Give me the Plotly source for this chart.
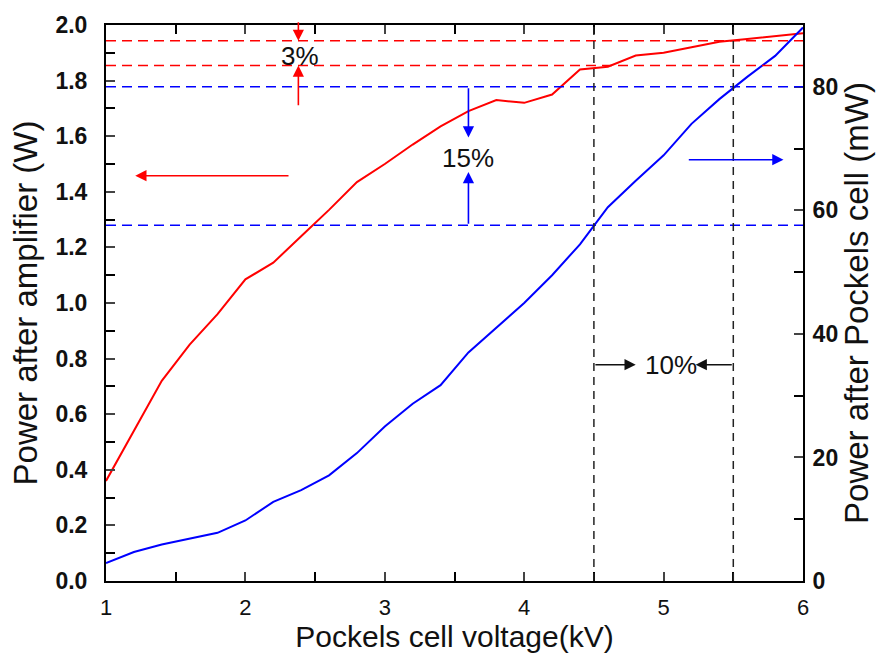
import plotly.graph_objects as go

voltage = [1.0, 1.2, 1.4, 1.6, 1.8, 2.0, 2.2, 2.4, 2.6, 2.8, 3.0, 3.2, 3.4,
           3.6, 3.8, 4.0, 4.2, 4.4, 4.6, 4.8, 5.0, 5.2, 5.4, 5.6, 5.8, 6.0]
amp_power_w = [0.36, 0.54, 0.72, 0.85, 0.96, 1.085, 1.145, 1.24, 1.335, 1.435,
               1.50, 1.57, 1.635, 1.69, 1.73, 1.72, 1.75, 1.84, 1.85, 1.89,
               1.90, 1.92, 1.94, 1.95, 1.96, 1.97]
pc_power_mw = [2.9, 4.7, 5.9, 6.8, 7.8, 9.8, 12.8, 14.7, 17.1, 20.7, 25.0, 28.7,
               31.7, 37.0, 41.0, 45.0, 49.5, 54.5, 60.5, 64.8, 68.9, 74.0,
               78.0, 81.6, 85.0, 89.6]

red_levels_w = [1.943, 1.854]
blue_levels_mw = [80.0, 57.6]
voltage_marks = [4.5, 5.5]

x_ticks = [1, 2, 3, 4, 5, 6]
y_ticks = [0.0, 0.2, 0.4, 0.6, 0.8, 1.0, 1.2, 1.4, 1.6, 1.8, 2.0]
y2_ticks = [0, 20, 40, 60, 80]

FONT = "Liberation Sans, Arial, sans-serif"
RED = "rgb(255,0,0)"
BLUE = "rgb(0,0,255)"

fig = go.Figure()
fig.add_trace(go.Scatter(x=voltage, y=amp_power_w, mode="lines",
                         line=dict(color=RED, width=2), yaxis="y", showlegend=False))
fig.add_trace(go.Scatter(x=voltage, y=pc_power_mw, mode="lines",
                         line=dict(color=BLUE, width=2), yaxis="y2", showlegend=False))

shapes = []
for lv in red_levels_w:
    shapes.append(dict(type="line", xref="paper", x0=0, x1=1, yref="y", y0=lv, y1=lv,
                       line=dict(color=RED, width=1.5, dash="10px,6px")))
for lv in blue_levels_mw:
    shapes.append(dict(type="line", xref="paper", x0=0, x1=1, yref="y2", y0=lv, y1=lv,
                       line=dict(color=BLUE, width=1.5, dash="10px,6px")))
for v in voltage_marks:
    shapes.append(dict(type="line", xref="x", x0=v, x1=v, yref="paper", y0=0, y1=1,
                       line=dict(color="#222222", width=1.5, dash="8px,6px")))

def arrow(x, y, ax, ay, color, yref="y"):
    return dict(x=x, y=y, ax=ax, ay=ay, xref="x", yref=yref, axref="x", ayref=yref,
                text="", showarrow=True, arrowhead=2, arrowsize=1.4, arrowwidth=1.6,
                arrowcolor=color, standoff=0, startstandoff=0)

def label(x, y, text, yref="y"):
    return dict(x=x, y=y, xref="x", yref=yref, text=text, showarrow=False,
                font=dict(family=FONT, size=26, color="#111111"))

annotations = [
    # left-pointing red arrow (left axis)
    arrow(1.21, 1.458, 2.32, 1.458, RED),
    # right-pointing blue arrow (right axis)
    arrow(5.86, 68.2, 5.17, 68.2, BLUE, "y2"),
    # 3% arrows
    arrow(2.38, 1.943, 2.38, 2.015, RED),
    arrow(2.38, 1.854, 2.38, 1.706, RED),
    label(2.39, 1.89, "3%"),
    # 15% arrows
    arrow(3.6, 71.8, 3.6, 80.0, BLUE, "y2"),
    arrow(3.6, 66.2, 3.6, 57.6, BLUE, "y2"),
    label(3.6, 1.523, "15%"),
    # 10% arrows
    arrow(4.80, 0.778, 4.5, 0.778, "#111111"),
    arrow(5.23, 0.778, 5.5, 0.778, "#111111"),
    label(5.05, 0.778, "10%"),
]

fig.update_layout(
    width=880, height=660,
    margin=dict(l=106, r=77, t=17, b=79),
    paper_bgcolor="white", plot_bgcolor="white",
    font=dict(family=FONT, color="#111111"),
    shapes=shapes, annotations=annotations,
    xaxis=dict(range=[1, 6], tickvals=x_ticks, ticks="inside", ticklen=9, tickwidth=2,
               showline=True, linecolor="black", linewidth=2, mirror="ticks",
               showgrid=False, zeroline=False,
               minor=dict(ticks="inside", dtick=0.5, ticklen=9, tickwidth=2, tickcolor="black"),
               tickfont=dict(size=22, family=FONT), ticklabelstandoff=6,
               title=dict(text="Pockels cell voltage(kV)", font=dict(size=30, family=FONT),
                          standoff=5)),
    yaxis=dict(range=[0, 2], tickvals=y_ticks, tickformat=".1f", ticks="inside",
               ticklen=9, tickwidth=2, showline=True, linecolor="black", linewidth=2,
               showgrid=False, zeroline=False,
               minor=dict(ticks="inside", dtick=0.1, ticklen=9, tickwidth=2, tickcolor="black"),
               tickfont=dict(size=23, family=FONT, weight="bold"), ticklabelstandoff=12,
               title=dict(text="Power after amplifier (W)", font=dict(size=33, family=FONT),
                          standoff=8)),
    yaxis2=dict(range=[0, 90], tickvals=y2_ticks, overlaying="y", side="right",
                ticks="inside", ticklen=9, tickwidth=2, showline=True, linecolor="black",
                linewidth=2, showgrid=False, zeroline=False,
                minor=dict(ticks="inside", dtick=10, ticklen=9, tickwidth=2, tickcolor="black"),
                tickfont=dict(size=23, family=FONT, weight="bold"), ticklabelstandoff=3,
                title=dict(text="Power after Pockels cell (mW)", font=dict(size=33, family=FONT),
                           standoff=4)),
)

fig.write_html("out.html")
